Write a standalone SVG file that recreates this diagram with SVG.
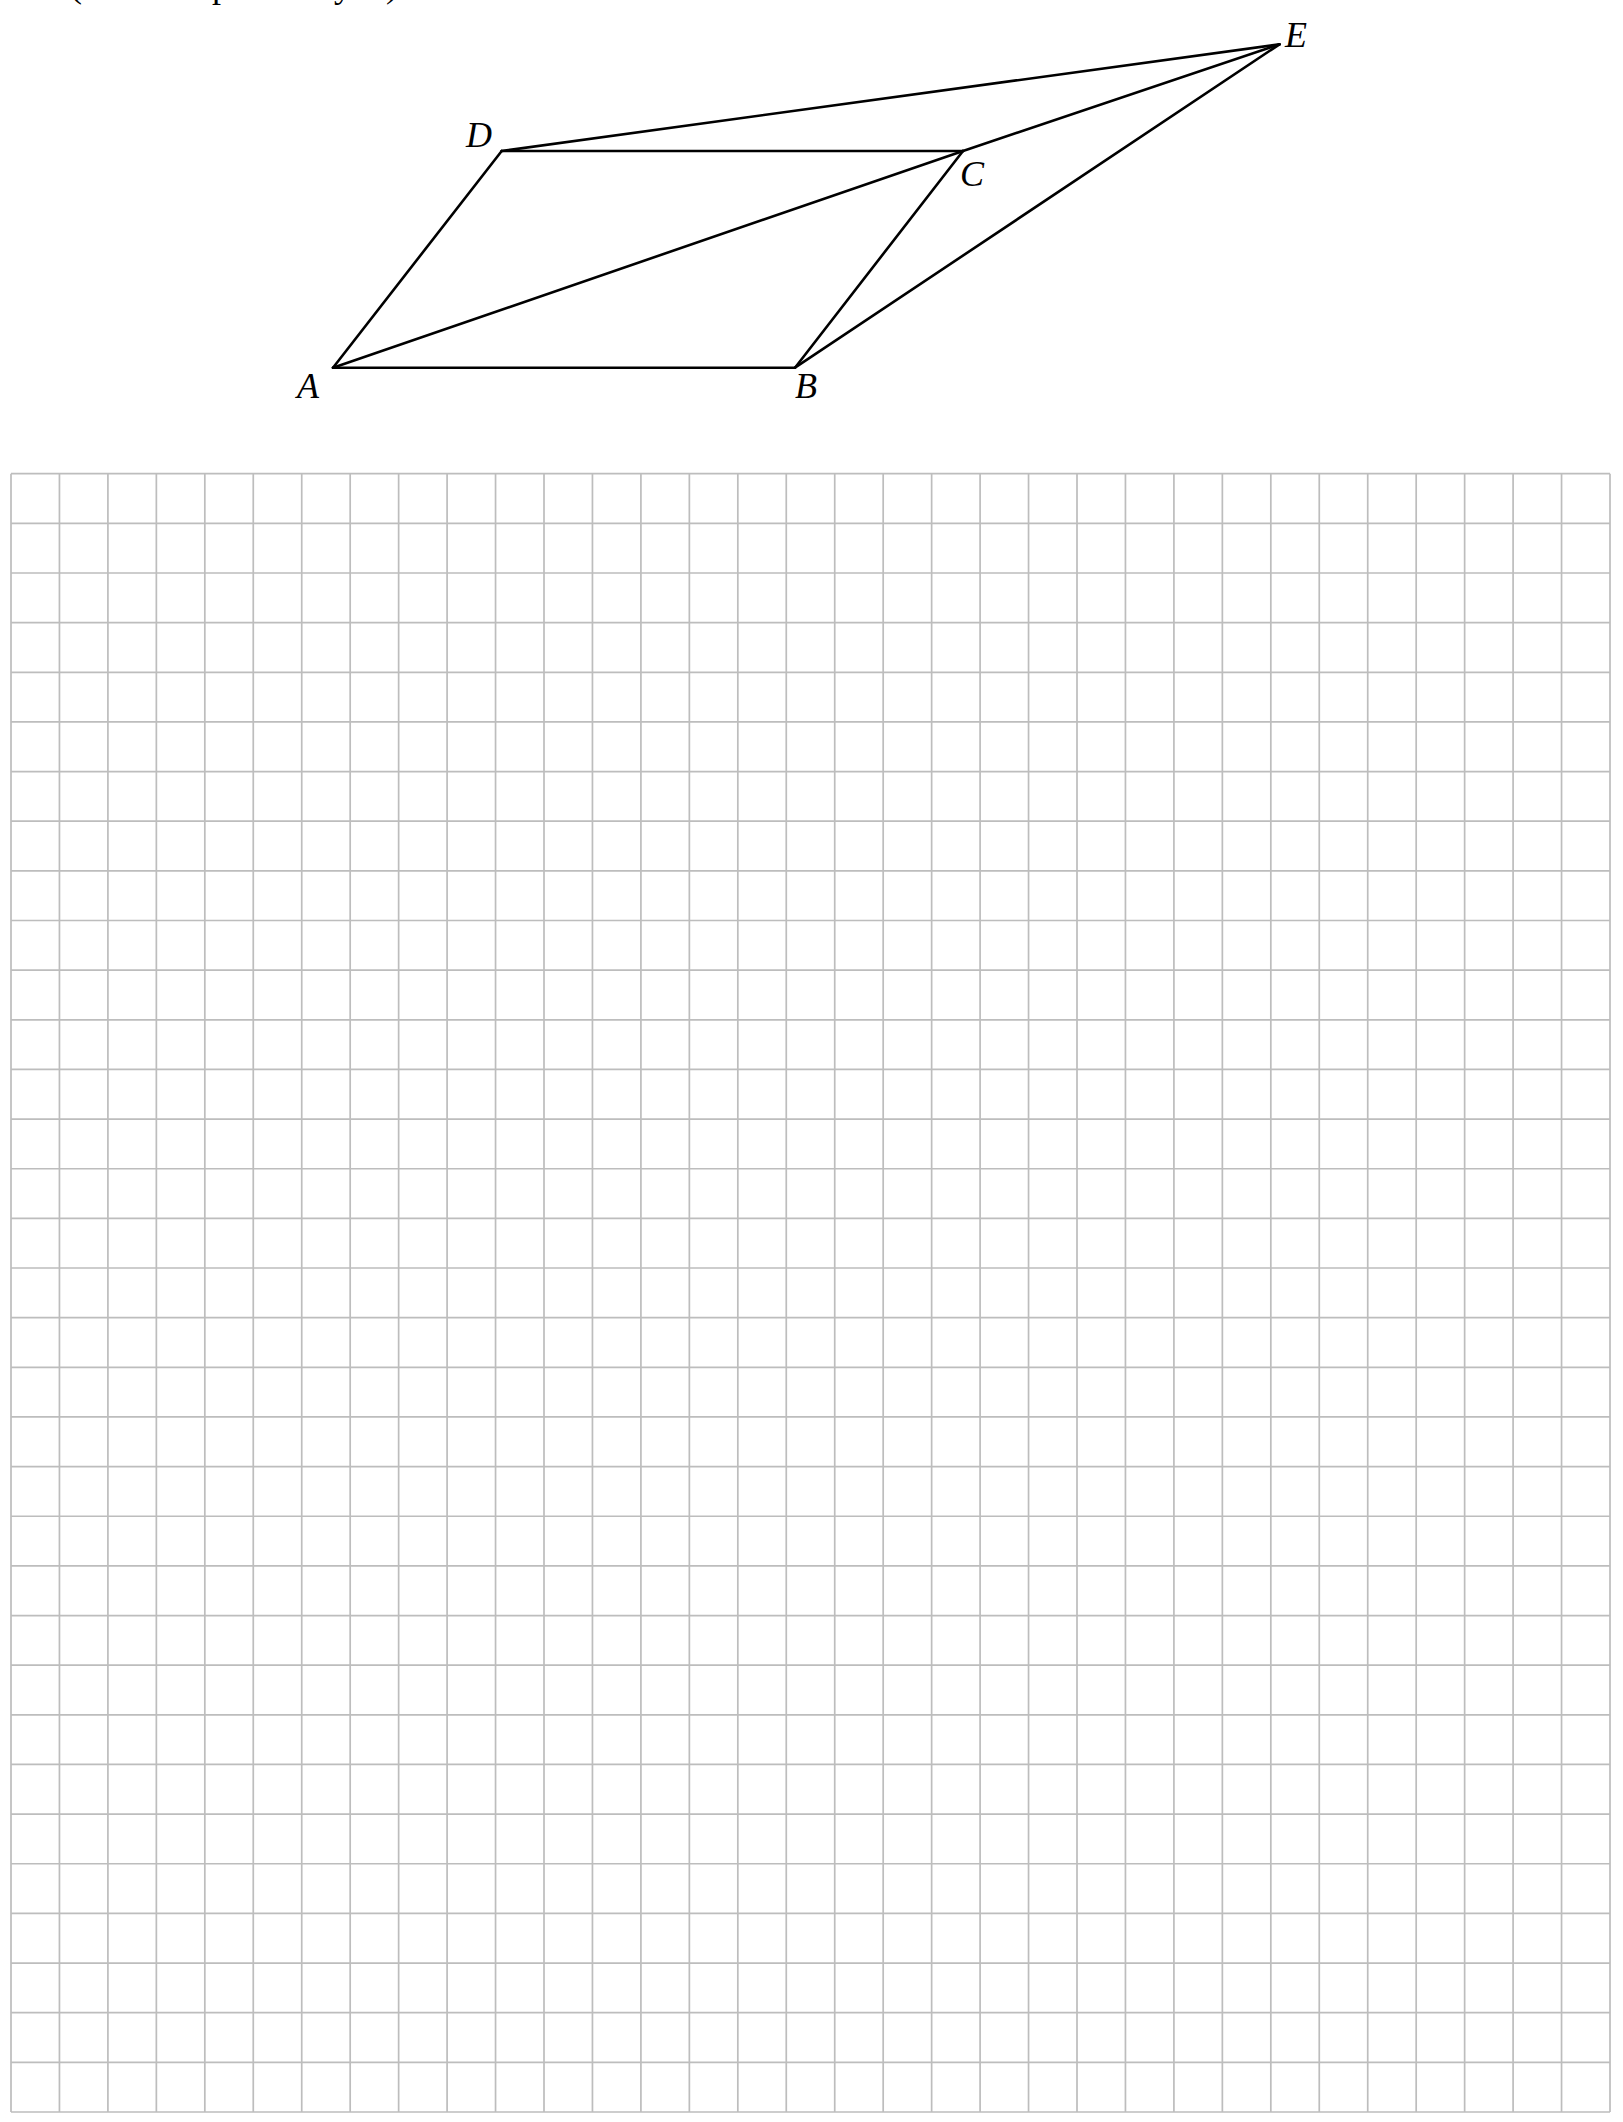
<svg xmlns="http://www.w3.org/2000/svg" width="1623" height="2122" viewBox="0 0 1623 2122">
<style>
.grid{fill:none;stroke:#bdbdbd;stroke-width:1.7}
.edge{stroke:#000;stroke-width:2.6;stroke-linecap:round;fill:none}
.lbl{font-family:"Liberation Serif","Times New Roman",serif;font-style:italic;font-size:36px;fill:#000}
.frag{font-family:"Liberation Serif","Times New Roman",serif;font-size:36px;fill:#000}
</style>
<rect width="1623" height="2122" fill="#fff"/>
<g id="clipped-text">
<text class="frag" x="70" y="-3">(</text>
<text class="frag" x="212" y="-3">p</text>
<text class="frag" x="334" y="-3">y</text>
<text class="frag" x="386" y="-3">)</text>
</g>
<g id="grid">
<path class="grid" d="M11 473.7V2112 M59.45 473.7V2112 M107.91 473.7V2112 M156.36 473.7V2112 M204.82 473.7V2112 M253.27 473.7V2112 M301.73 473.7V2112 M350.18 473.7V2112 M398.64 473.7V2112 M447.09 473.7V2112 M495.55 473.7V2112 M544 473.7V2112 M592.45 473.7V2112 M640.91 473.7V2112 M689.36 473.7V2112 M737.82 473.7V2112 M786.27 473.7V2112 M834.73 473.7V2112 M883.18 473.7V2112 M931.64 473.7V2112 M980.09 473.7V2112 M1028.55 473.7V2112 M1077 473.7V2112 M1125.45 473.7V2112 M1173.91 473.7V2112 M1222.36 473.7V2112 M1270.82 473.7V2112 M1319.27 473.7V2112 M1367.73 473.7V2112 M1416.18 473.7V2112 M1464.64 473.7V2112 M1513.09 473.7V2112 M1561.55 473.7V2112 M1610 473.7V2112"/>
<path class="grid" d="M11 473.7H1610 M11 523.35H1610 M11 572.99H1610 M11 622.64H1610 M11 672.28H1610 M11 721.93H1610 M11 771.57H1610 M11 821.22H1610 M11 870.86H1610 M11 920.51H1610 M11 970.15H1610 M11 1019.8H1610 M11 1069.44H1610 M11 1119.09H1610 M11 1168.73H1610 M11 1218.38H1610 M11 1268.02H1610 M11 1317.67H1610 M11 1367.31H1610 M11 1416.96H1610 M11 1466.6H1610 M11 1516.25H1610 M11 1565.89H1610 M11 1615.54H1610 M11 1665.18H1610 M11 1714.83H1610 M11 1764.47H1610 M11 1814.12H1610 M11 1863.76H1610 M11 1913.41H1610 M11 1963.05H1610 M11 2012.7H1610 M11 2062.34H1610 M11 2112H1610"/>
</g>
<g id="connectors">
<line class="edge" x1="333" y1="367.7" x2="795" y2="367.7"/>
<line class="edge" x1="795" y1="367.7" x2="963" y2="151"/>
<line class="edge" x1="963" y1="151" x2="501.7" y2="151"/>
<line class="edge" x1="501.7" y1="151" x2="333" y2="367.7"/>
<line class="edge" x1="333" y1="367.7" x2="963" y2="151"/>
<line class="edge" x1="963" y1="151" x2="1279.5" y2="44.3"/>
<line class="edge" x1="501.7" y1="151" x2="1279.5" y2="44.3"/>
<line class="edge" x1="795" y1="367.7" x2="1279.5" y2="44.3"/>
</g>
<g id="node-A"><text class="lbl" x="297" y="398">A</text></g>
<g id="node-B"><text class="lbl" x="795" y="398">B</text></g>
<g id="node-C"><text class="lbl" x="960" y="186">C</text></g>
<g id="node-D"><text class="lbl" x="466" y="147">D</text></g>
<g id="node-E"><text class="lbl" x="1285" y="47">E</text></g>
</svg>
